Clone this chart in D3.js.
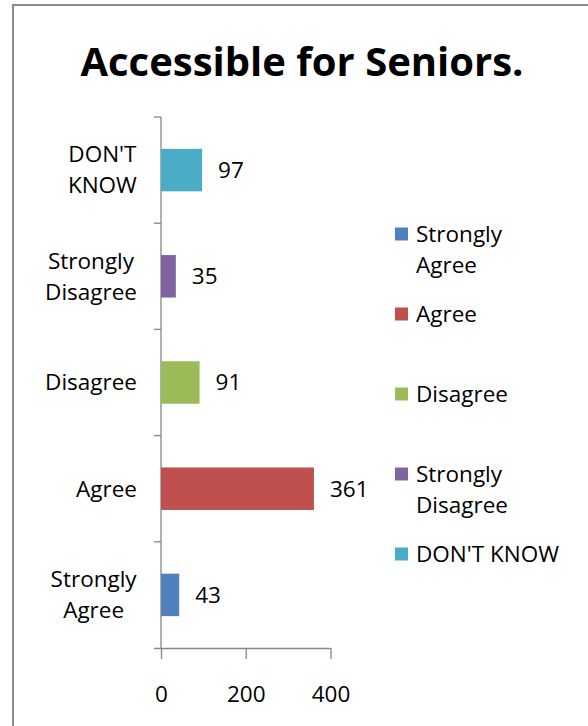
<!DOCTYPE html>
<html>
<head>
<meta charset="utf-8">
<script src="https://cdn.jsdelivr.net/npm/d3@7"></script>
<style>
  html, body { margin: 0; padding: 0; background: #fff; }
  svg { display: block; }
  text { font-family: "Open Sans", sans-serif; fill: #000; }
</style>
</head>
<body>
<svg id="chart" width="588" height="726"></svg>
<script>
// Survey responses: "Accessible for Seniors."
const categories = ["Strongly Agree", "Agree", "Disagree", "Strongly Disagree", "DON'T KNOW"];
const categoryLines = [["Strongly", "Agree"], ["Agree"], ["Disagree"], ["Strongly", "Disagree"], ["DON'T", "KNOW"]];
const values = [43, 361, 91, 35, 97];
const colors = ["#4F81BD", "#C0504D", "#9BBB59", "#8064A2", "#4BACC6"];
const xTicks = [0, 200, 400];
const title = "Accessible for Seniors.";

const svg = d3.select("#chart");
const fontSize = "22.5px";

// outer chart frame
svg.append("rect")
  .attr("x", 13).attr("y", 5)
  .attr("width", 700).attr("height", 800)
  .attr("fill", "none").attr("stroke", "#8a8a8a").attr("stroke-width", 2);

// title
svg.append("text")
  .attr("x", 302).attr("y", 76)
  .attr("text-anchor", "middle")
  .style("font-size", "40px").style("font-weight", "bold")
  .text(title);

const plot = { left: 161, right: 330.5, top: 117, bottom: 648 };

const x = d3.scaleLinear().domain([0, 400]).range([plot.left, plot.right]);
// first category at the bottom
const y = d3.scaleBand()
  .domain(categories.slice().reverse())
  .range([plot.top, plot.bottom])
  .paddingInner(0.6).paddingOuter(0.3);

const axisColor = "#868686";

// value axis
const xAxis = svg.append("g")
  .attr("transform", `translate(0,${plot.bottom})`)
  .call(d3.axisBottom(x).tickValues(xTicks).tickSize(11).tickPadding(27));
xAxis.select(".domain").attr("stroke", axisColor).attr("stroke-width", 1.3)
  .attr("d", `M${plot.left - 7},0.5H${plot.right}`);
xAxis.selectAll(".tick line").attr("stroke", axisColor).attr("stroke-width", 1.3);
xAxis.selectAll(".tick text").style("font-size", fontSize).attr("fill", "#000")
  .style("font-family", "Open Sans, sans-serif");

// category axis
const yStep = (plot.bottom - plot.top) / categories.length;
const yAxisG = svg.append("g");
yAxisG.append("line")
  .attr("x1", plot.left).attr("x2", plot.left)
  .attr("y1", plot.top).attr("y2", plot.bottom)
  .attr("stroke", axisColor).attr("stroke-width", 1.3);
yAxisG.selectAll("line.tk")
  .data(d3.range(categories.length))
  .join("line").attr("class", "tk")
  .attr("x1", plot.left - 7).attr("x2", plot.left)
  .attr("y1", i => plot.top + i * yStep).attr("y2", i => plot.top + i * yStep)
  .attr("stroke", axisColor).attr("stroke-width", 1.3);

// category labels, multi-line ones centred within a right-aligned block
const lineH = 31;
const catLabels = svg.append("g");
categories.forEach((c, i) => {
  const lines = categoryLines[i];
  const cy = y(c) + y.bandwidth() / 2;
  const g = catLabels.append("g");
  const t = g.append("text").style("font-size", fontSize).attr("text-anchor", "middle");
  lines.forEach((ln, j) => {
    t.append("tspan")
      .attr("x", 0)
      .attr("y", cy + (j - (lines.length - 1) / 2) * lineH)
      .attr("dy", "0.35em")
      .text(ln);
  });
  const w = t.node().getBBox().width;
  g.attr("transform", `translate(${plot.left - 24 - w / 2},0)`);
});

// bars
svg.append("g").selectAll("rect")
  .data(categories)
  .join("rect")
  .attr("x", x(0))
  .attr("y", d => y(d))
  .attr("width", (d, i) => x(values[i]) - x(0))
  .attr("height", y.bandwidth())
  .attr("fill", (d, i) => colors[i]);

// value labels
svg.append("g").selectAll("text")
  .data(categories)
  .join("text")
  .attr("x", (d, i) => x(values[i]) + 16)
  .attr("y", d => y(d) + y.bandwidth() / 2)
  .attr("dy", "0.35em")
  .style("font-size", fontSize)
  .text((d, i) => values[i]);

// legend
const legendTop = 234, legendGap = 80;
const legend = svg.append("g");
categories.forEach((c, i) => {
  const cy = legendTop + i * legendGap;
  legend.append("rect")
    .attr("x", 395).attr("y", cy - 6.5)
    .attr("width", 13).attr("height", 13)
    .attr("fill", colors[i]);
  const t = legend.append("text").style("font-size", fontSize);
  const lines = c === "DON'T KNOW" ? [c] : categoryLines[i];
  lines.forEach((ln, j) => {
    t.append("tspan").attr("x", 416).attr("y", cy + j * lineH).attr("dy", "0.35em").text(ln);
  });
});
</script>
</body>
</html>
